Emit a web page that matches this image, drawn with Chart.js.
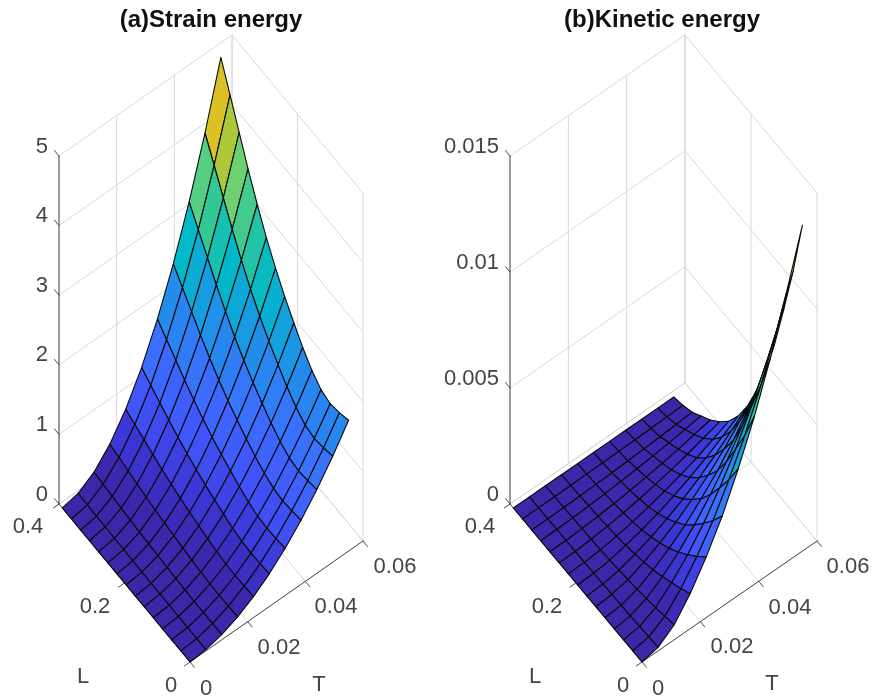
<!DOCTYPE html>
<html><head><meta charset="utf-8">
<style>html,body{margin:0;padding:0;background:#fff;width:872px;height:698px;overflow:hidden}
canvas{position:absolute;top:0}</style>
<script src="https://cdn.jsdelivr.net/npm/chart.js@4"></script>
</head><body>
<canvas id="a" width="436" height="698" style="left:0"></canvas>
<canvas id="b" width="436" height="698" style="left:436px"></canvas>
<script>
// ---------- data ----------
const L_VALUES = [0,.028,.056,.084,.112,.14,.167,.195,.223,.251,.279,.307,.334,.362,.39];
const T_VALUES = [0,.0055,.011,.0165,.022,.0275,.033,.0385,.044,.0495,.055];
const L_TICKS = [0,0.2,0.4];
const T_TICKS = [0,0.02,0.04,0.06];
const STRAIN_TICKS = [0,1,2,3,4,5];
const KINETIC_TICKS = [0,0.005,0.01,0.015];
// rows: T index, columns: L index
const STRAIN = [
[0,0,0,0,0,0,0,0,0,0,0,0,0,0,0],
[.019,.018,.018,.018,.020,.021,.023,.026,.028,.031,.034,.038,.041,.045,.049],
[.075,.073,.072,.074,.078,.085,.093,.102,.112,.123,.136,.150,.165,.180,.195],
[.169,.165,.162,.166,.176,.192,.210,.230,.252,.277,.306,.338,.371,.405,.439],
[.301,.293,.288,.294,.314,.341,.373,.408,.448,.493,.544,.600,.659,.720,.781],
[.470,.458,.450,.460,.490,.533,.583,.638,.700,.770,.850,.938,1.03,1.125,1.22],
[.677,.659,.648,.662,.706,.767,.839,.918,1.008,1.109,1.224,1.35,1.483,1.62,1.757],
[.921,.897,.882,.902,.960,1.044,1.142,1.25,1.372,1.509,1.666,1.838,2.019,2.205,2.391],
[1.203,1.171,1.152,1.178,1.254,1.363,1.491,1.632,1.792,1.971,2.176,2.40,2.637,2.88,3.123],
[1.523,1.482,1.458,1.490,1.588,1.725,1.887,2.066,2.268,2.495,2.754,3.038,3.337,3.645,3.953],
[1.88,1.83,1.80,1.84,1.96,2.13,2.33,2.55,2.80,3.08,3.40,3.75,4.12,4.50,4.88]];
const KINETIC = [
[0,0,0,0,0,0,0,0,0,0,0,0,0,0,0],
[.000154,.000128,.000105,.000083,.000064,.00005,.000037,.000028,.00002,.000014,.00001,.000007,.000003,.000001,0],
[.00064,.000534,.000437,.000345,.000267,.000207,.000156,.000115,.000083,.00006,.000041,.000028,.000014,.000006,0],
[.00151,.00125,.00103,.00081,.000626,.000486,.000367,.00027,.000194,.00014,.000097,.000065,.000032,.000013,0],
[.00261,.00216,.00176,.00139,.00108,.000835,.000631,.000464,.000334,.000241,.000167,.000111,.000056,.000022,0],
[.0039,.00322,.00264,.00209,.00161,.00125,.000944,.000694,.0005,.000361,.00025,.000167,.000083,.000033,0],
[.00546,.00451,.00369,.00292,.00226,.00175,.00132,.000972,.0007,.000505,.00035,.000233,.000117,.000046,0],
[.00722,.00596,.00489,.00386,.00298,.00232,.00175,.00129,.000926,.000669,.000463,.000309,.000154,.000062,0],
[.00926,.00764,.00626,.00494,.00382,.00297,.00225,.00165,.00118,.000857,.000593,.000396,.000198,.000079,0],
[.01161,.00959,.00785,.0062,.00479,.00372,.00281,.00207,.00149,.00107,.000744,.000496,.000248,.000099,0],
[.01405,.0116,.0095,.0075,.0058,.0045,.0034,.0025,.0018,.0013,.0009,.0006,.0003,.00012,0]];

// ---------- colours ----------
const CMAP = [[0,62,38,168],[.037,60,40,175],[.083,60,55,215],[.148,65,85,250],[.23,60,110,255],[.33,35,140,235],[.45,0,185,200],[.54,50,200,150],[.59,85,205,130],[.62,106,209,115],[.684,170,200,55],[.747,219,193,38],[1,249,251,21]];
function cmap(t){
  t=Math.max(0,Math.min(1,t));
  for(let k=1;k<CMAP.length;k++){ if(t<=CMAP[k][0]){
    const a=CMAP[k-1],b=CMAP[k],u=(t-a[0])/(b[0]-a[0]);
    return 'rgb('+[1,2,3].map(c=>Math.round(a[c]+(b[c]-a[c])*u)).join(',')+')';
  }}
  return 'rgb(249,251,21)';
}

// ---------- panel builder ----------
function panel(id,cfg){
  const W=436,H=698,v=cfg.view;
  const Lmax=L_TICKS[L_TICKS.length-1],Tmax=T_TICKS[T_TICKS.length-1];
  const P=(l,t,z)=>({x:v.o[0]+v.lv[0]*l/Lmax+v.tv[0]*t/Tmax,
                     y:v.o[1]+v.lv[1]*l/Lmax+v.tv[1]*t/Tmax-v.zs*z/cfg.zTicks[cfg.zTicks.length-1]});
  const zMax=Math.max(...cfg.z.flat());
  const ds=[];
  // surface: first dataset is painted last, so nearest cells go first
  for(let i=0;i<T_VALUES.length-1;i++)for(let j=0;j<L_VALUES.length-1;j++){
    const c=[[i,j],[i+1,j],[i+1,j+1],[i,j+1],[i,j]];
    ds.push({data:c.map(([a,b])=>P(L_VALUES[b],T_VALUES[a],cfg.z[a][b])),
      showLine:true,fill:'shape',backgroundColor:cmap(cfg.z[i][j]/zMax),borderColor:'#0a0a0a',borderWidth:1.1,pointRadius:0,tension:0});
  }
  const line=(a,b,col,w)=>ds.push({data:[a,b],showLine:true,fill:false,borderColor:col,borderWidth:w,pointRadius:0});
  const AX='#4a4a4a',GR='#d8d8d8',zT=cfg.zTicks,top=zT[zT.length-1];
  const TK=7,norm=(p)=>{const n=Math.hypot(p[0],p[1]);return [p[0]/n*TK,p[1]/n*TK]};
  const tL=norm(v.lv),tT=norm(v.tv);
  // axes and ticks
  line(P(Lmax,0,0),P(Lmax,0,top),AX,1);
  line(P(Lmax,0,0),P(0,0,0),AX,1);
  line(P(0,0,0),P(0,Tmax,0),AX,1);
  zT.forEach(z=>{const p=P(Lmax,0,z);line(p,{x:p.x+tL[0],y:p.y+tL[1]},AX,1)});
  L_TICKS.forEach(l=>{const p=P(l,0,0);line(p,{x:p.x-tT[0],y:p.y-tT[1]},AX,1)});
  T_TICKS.forEach(t=>{const p=P(0,t,0);line(p,{x:p.x-tL[0],y:p.y-tL[1]},AX,1)});
  // back walls and floor
  zT.forEach(z=>{line(P(Lmax,0,z),P(Lmax,Tmax,z),GR,1);line(P(Lmax,Tmax,z),P(0,Tmax,z),GR,1)});
  T_TICKS.forEach(t=>{line(P(Lmax,t,0),P(Lmax,t,top),GR,1);line(P(0,t,0),P(Lmax,t,0),GR,1)});
  L_TICKS.forEach(l=>{line(P(l,Tmax,0),P(l,Tmax,top),GR,1);line(P(l,0,0),P(l,Tmax,0),GR,1)});

  const texts={id:'texts',afterDraw(ch){
    const c=ch.ctx;c.save();c.textAlign='center';c.textBaseline='middle';
    c.fillStyle='#111';c.font='bold 24px "Liberation Sans"';
    c.fillText(cfg.title,cfg.titleX,20);
    c.fillStyle='#444';c.font='22px "Liberation Sans"';
    c.textAlign='right';
    zT.forEach(z=>{const p=P(Lmax,0,z);c.fillText(String(z),p.x-11,p.y-9.5)});
    c.textAlign='center';
    L_TICKS.forEach((l,k)=>c.fillText(String(l),v.lLab[k][0],v.lLab[k][1]));
    T_TICKS.forEach((t,k)=>c.fillText(String(t),v.tLab[k][0],v.tLab[k][1]));
    c.fillText('L',v.lName[0],v.lName[1]);
    c.fillText('T',v.tName[0],v.tName[1]);
    c.restore();
  }};
  new Chart(document.getElementById(id),{type:'scatter',data:{datasets:ds},plugins:[texts],options:{
    responsive:false,animation:false,events:[],
    layout:{padding:0},
    elements:{line:{borderCapStyle:'round',borderJoinStyle:'round'}},
    plugins:{legend:{display:false},tooltip:{enabled:false},title:{display:false}},
    scales:{x:{type:'linear',display:false,min:0,max:W},y:{type:'linear',display:false,min:0,max:H,reverse:true}}
  }});
}

panel('a',{title:'(a)Strain energy',titleX:211,z:STRAIN,zTicks:STRAIN_TICKS,view:{
  o:[190,662],lv:[-131,-158],tv:[173,-121],zs:348,
  lLab:[[171,686],[95,607],[28,527]],tLab:[[206,689],[279,648],[336,607],[395,567]],lName:[83,677],tName:[319,685]}});
panel('b',{title:'(b)Kinetic energy',titleX:226,z:KINETIC,zTicks:KINETIC_TICKS,view:{
  o:[206,662],lv:[-132,-158],tv:[175,-121],zs:348,
  lLab:[[187,686],[111,607],[44,527]],tLab:[[222,689],[296,647],[354,608],[412,567]],lName:[99,677],tName:[336,684]}});
</script>
</body></html>
